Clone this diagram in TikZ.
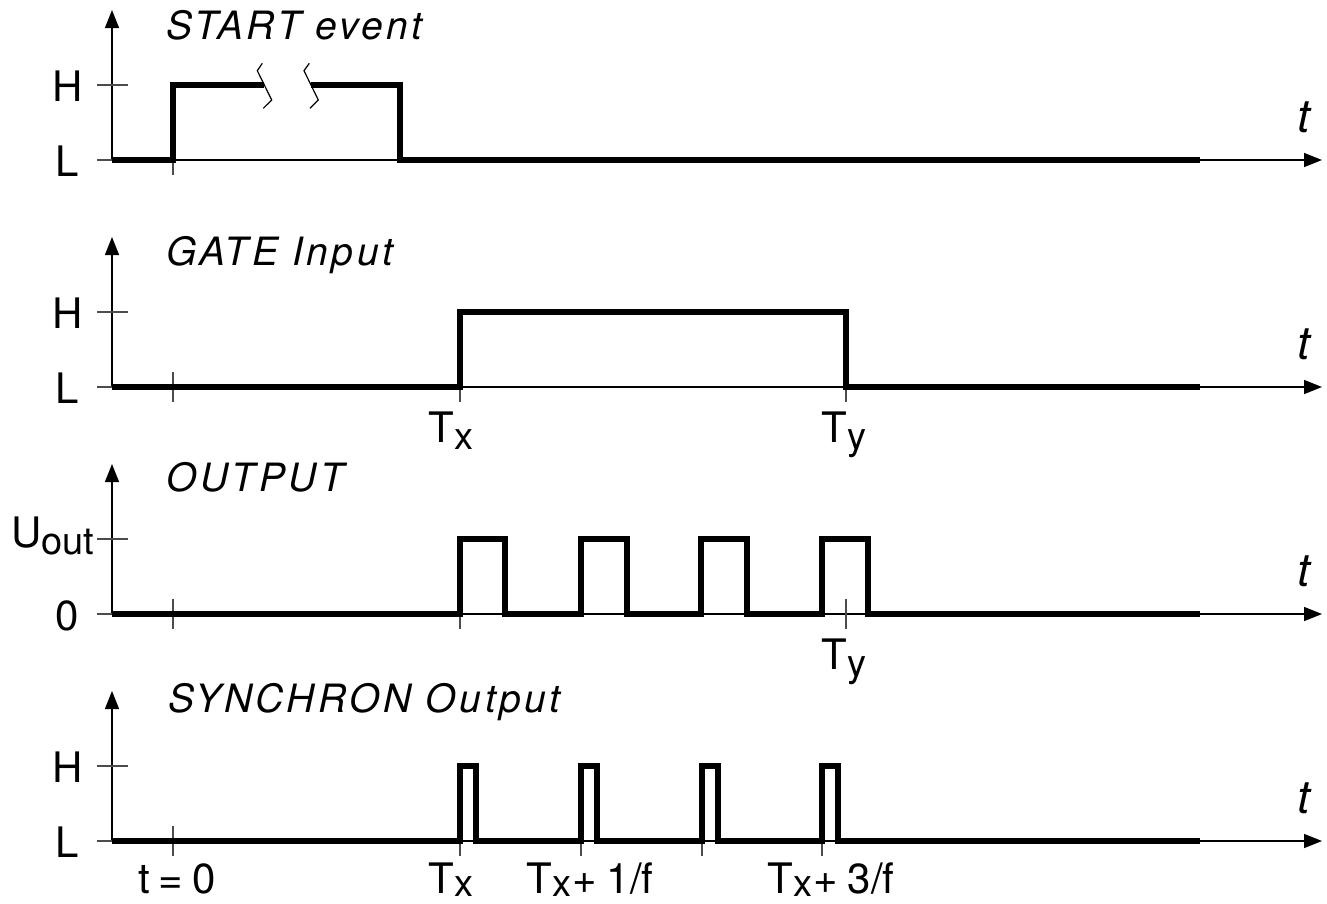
\documentclass[tikz,border=0pt]{standalone}
\usepackage{fontspec}
\setmainfont{TeX Gyre Heros}
\newfontfamily\titlefont[LetterSpace=9]{TeX Gyre Heros}
\usetikzlibrary{arrows.meta}
\newcommand{\lsub}[2][6pt]{\raisebox{-#1}{\fontsize{38}{40}\selectfont #2}}
\begin{document}
\begin{tikzpicture}[x=1pt,y=-1pt,
  axis/.style={line width=1.5pt, -{Triangle[length=18pt,width=14pt]}},
  tick/.style={line width=1.2pt, black!70},
  sig/.style={line width=5.2pt, line join=miter, line cap=butt},
  brk/.style={line width=1.2pt},
  lab/.style={font=\fontsize{42}{44}\selectfont, inner sep=0pt, anchor=base},
  ttl/.style={font=\titlefont\itshape\fontsize{39}{40}\selectfont, inner sep=0pt, anchor=base west},
  tlab/.style={font=\itshape\fontsize{46}{50}\selectfont, inner sep=0pt, anchor=base}]
\useasboundingbox (0,0) rectangle (1327,903);

% ---------- axes (4 panels) ----------
\foreach \k/\L in {1/160,2/387,3/614,4/841}{
  \coordinate (o\k) at (112,\L);
  \coordinate (ytip\k) at (112,\L-150);
  \coordinate (xtip\k) at (1322,\L);
  \draw[axis] (o\k) -- (ytip\k);
  \draw[axis] (o\k) -- (xtip\k);
  \draw[tick] (97,\L-75) -- (128,\L-75);
  \draw[tick] (97,\L) -- (112,\L);
  \draw[tick] (173,\L-15) -- (173,\L+15);
  \node[tlab] (t\k) at (1304,\L-28) {t};
}
% extra ticks
\foreach \x in {460,846}{
  \draw[tick] (\x,372) -- (\x,402);
  \draw[tick] (\x,599) -- (\x,629);
}
\foreach \x in {460,581,702,822}{
  \draw[tick] (\x,826) -- (\x,856);
}

% ---------- panel 1: START event ----------
\draw[sig] (112,160) -- (173,160) -- (173,85) -- (264.3,85);
\draw[sig] (311,85) -- (400,85) -- (400,160) -- (1200,160);
\draw[brk] (262.3,63.3) -- (257.3,70.7) -- (271.7,100) -- (263.3,108.3);
\draw[brk] (309.3,63.3) -- (304,70.7) -- (318.3,100) -- (310,108.3);
\node[ttl] (ttl1) at (166,39) {START event};
\node[lab] (h1) at (67.5,101) {H};
\node[lab] (l1) at (67.5,176) {L};

% ---------- panel 2: GATE Input ----------
\draw[sig] (112,387) -- (460,387) -- (460,312) -- (846,312) -- (846,387) -- (1200,387);
\node[ttl] (ttl2) at (166,265) {GATE Input};
\node[lab] (h2) at (67.5,328) {H};
\node[lab] (l2) at (67.5,403) {L};
\node[lab] (tx2) at (451,442) {T\lsub[7pt]{x}};
\node[lab] (ty2) at (844,442) {T\lsub[7pt]{y}};

% ---------- panel 3: OUTPUT ----------
\draw[sig] (112,614) -- (460,614) -- (460,539) -- (505,539) -- (505,614)
  -- (581,614) -- (581,539) -- (627,539) -- (627,614)
  -- (701,614) -- (701,539) -- (747,539) -- (747,614)
  -- (822,614) -- (822,539) -- (868,539) -- (868,614) -- (1200,614);
\node[ttl] (ttl3) at (166,491) {OUTPUT};
\node[lab, anchor=base west] (u3) at (11,547) {U\lsub[7pt]{out}};
\node[lab] (z3) at (67.5,630) {0};
\node[lab] (ty3) at (844,669) {T\lsub[7pt]{y}};

% ---------- panel 4: SYNCHRON Output ----------
\draw[sig] (112,841) -- (460,841) -- (460,766) -- (476,766) -- (476,841)
  -- (581,841) -- (581,766) -- (597,766) -- (597,841)
  -- (702,841) -- (702,766) -- (718,766) -- (718,841)
  -- (822,841) -- (822,766) -- (838,766) -- (838,841) -- (1200,841);
\node[ttl] (ttl4) at (168,712) {SYNCHRON Output};
\node[lab] (h4) at (67.5,782) {H};
\node[lab] (l4) at (67.5,857) {L};
\node[lab] (t0) at (177,893) {t\hspace{9pt}=\hspace{9pt}0};
\node[lab] (tx4) at (451,893) {T\lsub[3pt]{x}};
\node[lab] (tx41) at (590,893) {T\lsub[3pt]{x}\hspace{1pt}+\hspace{10pt}1/f};
\node[lab] (tx43) at (831,893) {T\lsub[3pt]{x}\hspace{1pt}+\hspace{10pt}3/f};
\end{tikzpicture}
\end{document}
